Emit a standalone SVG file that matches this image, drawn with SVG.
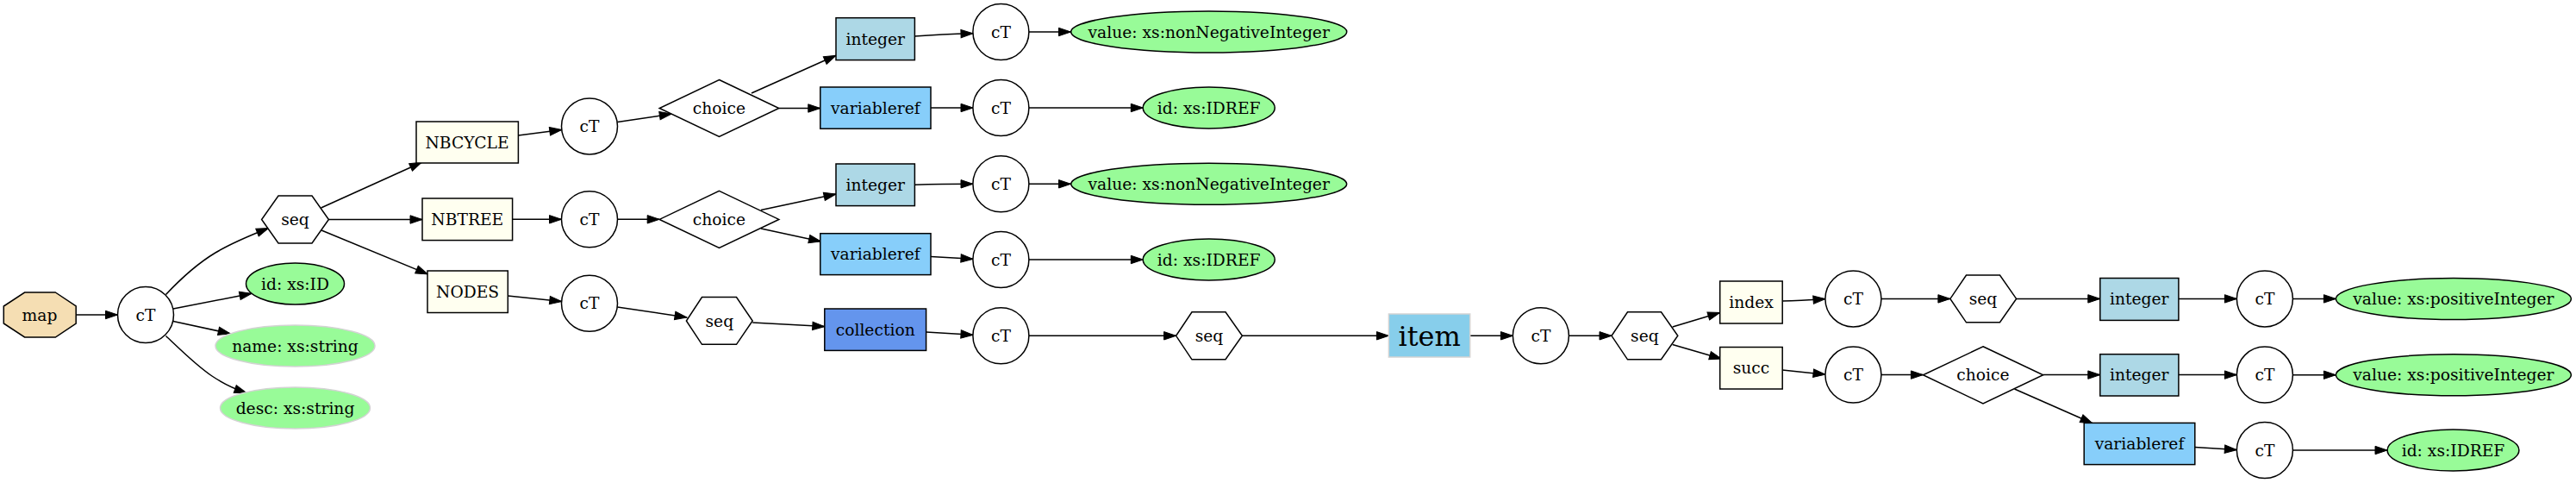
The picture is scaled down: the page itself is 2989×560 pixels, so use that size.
<svg xmlns="http://www.w3.org/2000/svg" width="2989" height="560" viewBox="0 0 2989 560">
<style>
text{font-family:"DejaVu Serif","Liberation Serif",serif;font-size:18.7px;text-anchor:middle;fill:#000}
.big{font-size:32px}
.s{stroke:#000;stroke-width:1.5}
.el{fill:#fffff0}
.int{fill:#add8e6}
.vr{fill:#87cefa}
.col{fill:#6495ed}
.att{fill:#98fb98}
.opt{fill:#98fb98;stroke:#d3d3d3;stroke-width:1.5}
.ct{fill:#fff}
.e path{fill:none;stroke:#000;stroke-width:1.5;marker-end:url(#ah)}
</style>
<defs>
<marker id="ah" markerWidth="14" markerHeight="10" refX="14" refY="5" orient="auto" markerUnits="userSpaceOnUse" style="overflow:visible">
<path d="M0,0.3 L14,5 L0,9.7 z" fill="#000" stroke="#000" stroke-width="1"/>
</marker>
</defs>
<rect width="2989" height="560" fill="#fff"/>
<g class="e" id="connectors">
<path d="M88.2,365 L136.5,365"/>
<path d="M192.5,341.5 C208,325 230,305 250,293 C265,284 285,275 311.5,264.5"/>
<path d="M201,358 L292,340.3"/>
<path d="M201,372.5 L267.2,386.8"/>
<path d="M192.5,389.5 C209,405 228,424 246,436 C258,444 271,450.5 286,455.6"/>
<path d="M372.5,241 L489.3,188.2"/>
<path d="M381.4,254.5 L490,254.5"/>
<path d="M373,267 L496.4,317.9"/>
<path d="M601.4,157 L651.8,150.4"/>
<path d="M716.5,141.5 L779.3,132.1"/>
<path d="M594.6,254.3 L651.5,254.3"/>
<path d="M716.5,254.3 L765.2,254.3"/>
<path d="M589.3,343 L651.8,349.5"/>
<path d="M716.3,356 L797,368"/>
<path d="M872,108 L970,64.3"/>
<path d="M903.8,125.5 L951.8,125.5"/>
<path d="M883,243.6 L970,225"/>
<path d="M883,265 L952.5,280"/>
<path d="M873.2,374 L956.8,378.6"/>
<path d="M1061.5,42 C1082,40.5 1102,39.5 1129,38.8"/>
<path d="M1194,37 L1242.5,37"/>
<path d="M1080,125 L1129,125"/>
<path d="M1194,125 L1326.3,125"/>
<path d="M1061.5,214.3 C1085,213.5 1105,213.3 1129,213.3"/>
<path d="M1194,213.3 L1242.5,213.3"/>
<path d="M1080,297.5 L1129,300.3"/>
<path d="M1194,301 L1326.3,301"/>
<path d="M1074.6,385 L1129,388.3"/>
<path d="M1194,389.3 L1364.6,389.3"/>
<path d="M1441.4,389.3 L1611.4,389.3"/>
<path d="M1706,389.3 L1755.4,389.3"/>
<path d="M1820.5,389.3 L1870,389.3"/>
<path d="M1940.7,379 L1995.7,362.5"/>
<path d="M1940.7,399.5 L1997.5,416"/>
<path d="M2068.2,349 C2085,349 2100,348 2118,346.6"/>
<path d="M2068.2,429 L2118,434.2"/>
<path d="M2183,346.4 L2262.9,346.4"/>
<path d="M2183,434.6 L2231.4,434.6"/>
<path d="M2339.6,346.4 L2436.8,346.4"/>
<path d="M2370.7,434.6 L2436.8,434.6"/>
<path d="M2337.5,451 L2427.9,490.8"/>
<path d="M2528,346.4 L2595.4,346.4"/>
<path d="M2528,434.6 L2595.4,434.6"/>
<path d="M2546.8,518.6 L2595.4,521.6"/>
<path d="M2660.4,346.4 L2710.4,346.4"/>
<path d="M2660.4,434.7 L2710.4,434.7"/>
<path d="M2660.4,522 L2770,522"/>
</g>
<g id="map"><polygon class="s" fill="#f5deb3" points="64.3,339 88.2,355 88.2,375 64.3,391 28.6,391 4.3,375 4.3,355 28.6,339"/><text x="46" y="371.5">map</text></g>
<g id="ct1"><circle class="s ct" cx="169" cy="365" r="32.5"/><text x="169" y="371.5">cT</text></g>
<g id="seq1"><polygon class="s ct" points="323,227 362,227 381.4,254.5 362,282 323,282 303.6,254.5"/><text x="342.5" y="261">seq</text></g>
<g id="attr-id"><ellipse class="s att" cx="342.5" cy="329" rx="57" ry="24"/><text x="342.5" y="335.5">id: xs:ID</text></g>
<g id="attr-name"><ellipse class="opt" cx="342.5" cy="401" rx="92.5" ry="24"/><text x="342.5" y="407.5">name: xs:string</text></g>
<g id="attr-desc"><ellipse class="opt" cx="342.5" cy="473" rx="87" ry="24"/><text x="342.5" y="479.5">desc: xs:string</text></g>
<g id="nbcycle"><rect class="s el" x="483" y="141" width="118.4" height="48"/><text x="542" y="171.5">NBCYCLE</text></g>
<g id="nbtree"><rect class="s el" x="490" y="230" width="104.6" height="48.6"/><text x="542.3" y="260.8">NBTREE</text></g>
<g id="nodes"><rect class="s el" x="496" y="314" width="93.3" height="48.5"/><text x="542.6" y="344.7">NODES</text></g>
<g id="ct2"><circle class="s ct" cx="684" cy="146.4" r="32.5"/><text x="684" y="152.9">cT</text></g>
<g id="ct3"><circle class="s ct" cx="684" cy="254.3" r="32.5"/><text x="684" y="260.8">cT</text></g>
<g id="ct4"><circle class="s ct" cx="684" cy="351.8" r="32.5"/><text x="684" y="358.3">cT</text></g>
<g id="choice1"><polygon class="s ct" points="834.5,92.5 903.8,125.5 834.5,158.5 765.2,125.5"/><text x="834.5" y="132">choice</text></g>
<g id="choice2"><polygon class="s ct" points="834.5,221.4 903.8,254.4 834.5,287.4 765.2,254.4"/><text x="834.5" y="260.9">choice</text></g>
<g id="seq2"><polygon class="s ct" points="814.5,344.6 854.5,344.6 873.2,372 854.5,399.3 814.5,399.3 796.4,372"/><text x="834.8" y="378.5">seq</text></g>
<g id="integer1"><rect class="s int" x="970" y="20.7" width="91.4" height="48.9"/><text x="1015.7" y="51.6">integer</text></g>
<g id="variableref1"><rect class="s vr" x="951.8" y="101" width="128.2" height="48.2"/><text x="1015.9" y="131.6">variableref</text></g>
<g id="integer2"><rect class="s int" x="970" y="190" width="91.4" height="48.6"/><text x="1015.7" y="220.8">integer</text></g>
<g id="variableref2"><rect class="s vr" x="951.8" y="270.7" width="128.2" height="47.9"/><text x="1015.9" y="301.1">variableref</text></g>
<g id="collection"><rect class="s col" x="956.8" y="358" width="117.8" height="48.4"/><text x="1015.7" y="388.7">collection</text></g>
<g id="ct5"><circle class="s ct" cx="1161.4" cy="37" r="32.5"/><text x="1161.4" y="43.5">cT</text></g>
<g id="ct6"><circle class="s ct" cx="1161.4" cy="125" r="32.5"/><text x="1161.4" y="131.5">cT</text></g>
<g id="ct7"><circle class="s ct" cx="1161.4" cy="213.3" r="32.5"/><text x="1161.4" y="219.8">cT</text></g>
<g id="ct8"><circle class="s ct" cx="1161.4" cy="301" r="32.5"/><text x="1161.4" y="307.5">cT</text></g>
<g id="ct9"><circle class="s ct" cx="1161.4" cy="389.3" r="32.5"/><text x="1161.4" y="395.8">cT</text></g>
<g id="value1"><ellipse class="s att" cx="1402.7" cy="37" rx="160" ry="24"/><text x="1402.7" y="43.5">value: xs:nonNegativeInteger</text></g>
<g id="idref1"><ellipse class="s att" cx="1402.7" cy="125" rx="76.5" ry="24"/><text x="1402.7" y="131.5">id: xs:IDREF</text></g>
<g id="value2"><ellipse class="s att" cx="1402.7" cy="213.3" rx="160" ry="24"/><text x="1402.7" y="219.8">value: xs:nonNegativeInteger</text></g>
<g id="idref2"><ellipse class="s att" cx="1402.7" cy="301" rx="76.5" ry="24"/><text x="1402.7" y="307.5">id: xs:IDREF</text></g>
<g id="seq3"><polygon class="s ct" points="1383,361.8 1422,361.8 1441.4,389.3 1422,416.8 1383,416.8 1364.6,389.3"/><text x="1403" y="395.8">seq</text></g>
<g id="item"><rect fill="#87ceeb" stroke="#d3d3d3" stroke-width="1.5" x="1611.4" y="364" width="94.3" height="50"/><text class="big" x="1658.6" y="400.5">item</text></g>
<g id="ct10"><circle class="s ct" cx="1787.9" cy="389.3" r="32.5"/><text x="1787.9" y="395.8">cT</text></g>
<g id="seq4"><polygon class="s ct" points="1888.5,361.8 1927.5,361.8 1946.8,389.3 1927.5,416.8 1888.5,416.8 1870,389.3"/><text x="1908.4" y="395.8">seq</text></g>
<g id="index"><rect class="s el" x="1995.7" y="326" width="72.5" height="49"/><text x="2032" y="357">index</text></g>
<g id="succ"><rect class="s el" x="1995.7" y="402.5" width="72.5" height="48.5"/><text x="2032" y="433.3">succ</text></g>
<g id="ct11"><circle class="s ct" cx="2150.4" cy="346.4" r="32.5"/><text x="2150.4" y="352.9">cT</text></g>
<g id="ct12"><circle class="s ct" cx="2150.4" cy="434.6" r="32.5"/><text x="2150.4" y="441.1">cT</text></g>
<g id="seq5"><polygon class="s ct" points="2281.5,319 2320.5,319 2339.6,346.4 2320.5,373.8 2281.5,373.8 2262.9,346.4"/><text x="2301" y="352.9">seq</text></g>
<g id="choice3"><polygon class="s ct" points="2301,401.8 2370.7,434.8 2301,467.9 2231.4,434.8"/><text x="2301" y="441.3">choice</text></g>
<g id="integer3"><rect class="s int" x="2436.8" y="322.5" width="91.1" height="48.9"/><text x="2482.3" y="353.1">integer</text></g>
<g id="integer4"><rect class="s int" x="2436.8" y="410.7" width="91.1" height="48.3"/><text x="2482.3" y="441.1">integer</text></g>
<g id="variableref3"><rect class="s vr" x="2418.2" y="490.4" width="128.6" height="48.2"/><text x="2482.5" y="521">variableref</text></g>
<g id="ct13"><circle class="s ct" cx="2627.9" cy="346.4" r="32.5"/><text x="2627.9" y="352.9">cT</text></g>
<g id="ct14"><circle class="s ct" cx="2627.9" cy="434.6" r="32.5"/><text x="2627.9" y="441.1">cT</text></g>
<g id="ct15"><circle class="s ct" cx="2627.9" cy="522" r="32.5"/><text x="2627.9" y="528.5">cT</text></g>
<g id="value3"><ellipse class="s att" cx="2846.9" cy="346.6" rx="136.5" ry="24"/><text x="2846.9" y="353.1">value: xs:positiveInteger</text></g>
<g id="value4"><ellipse class="s att" cx="2846.9" cy="434.8" rx="136.5" ry="24"/><text x="2846.9" y="441.3">value: xs:positiveInteger</text></g>
<g id="idref3"><ellipse class="s att" cx="2846.5" cy="522" rx="76.4" ry="24"/><text x="2846.5" y="528.5">id: xs:IDREF</text></g>
</svg>
